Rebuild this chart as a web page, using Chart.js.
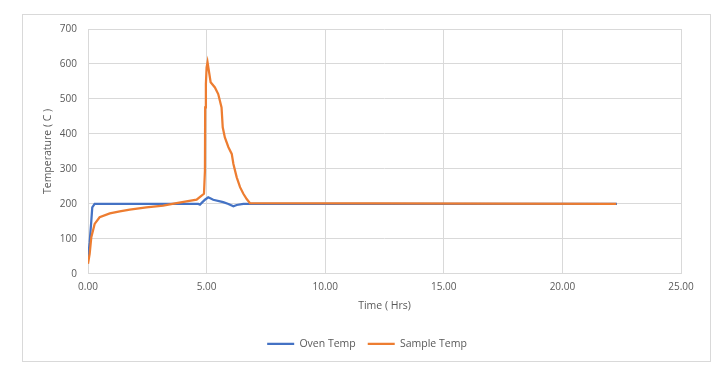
<!DOCTYPE html>
<html>
<head>
<meta charset="utf-8">
<script src="https://cdn.jsdelivr.net/npm/chart.js@4/dist/chart.umd.min.js"></script>
<style>
  html, body { margin: 0; padding: 0; background: #fff; }
  body { width: 716px; height: 377px; position: relative; overflow: hidden; }
  #frame { position: absolute; left: 22px; top: 14px; width: 689px; height: 348px; border: 1px solid #d9d9d9; box-sizing: border-box; }
  #wrap { position: absolute; left: 0; top: 0; width: 716px; height: 377px; }
</style>
</head>
<body>
<div id="frame"></div>
<div id="wrap"><canvas id="chart" width="716" height="377"></canvas></div>
<script>
// oven readings (hrs, C)
var ovenTime = [0, 0.07, 0.14, 0.18, 0.28, 4.65, 4.72, 4.93, 5.07, 5.28, 5.7, 5.92, 6.13, 6.27, 6.55, 6.83, 22.3];
var ovenTemp = [43, 90, 152, 190, 200, 200, 198, 212, 219, 212, 205, 200, 193, 197, 200, 200, 200];

// sample readings (hrs, C)
var sampleTime = [0, 0.07, 0.14, 0.28, 0.49, 0.92, 1.34, 1.76, 2.46, 3.17, 3.73, 4.15, 4.58, 4.79, 4.89, 4.93, 4.94, 4.97, 5.0, 5.04, 5.17, 5.35, 5.49, 5.63, 5.68, 5.77, 5.92, 6.06, 6.13, 6.27, 6.41, 6.55, 6.69, 6.83, 22.27];
var sampleTemp = [29, 57, 105, 143, 162, 173, 179, 184, 190, 195, 202, 207, 212, 224, 229, 295, 476, 543, 590, 605, 548, 533, 514, 476, 419, 390, 362, 343, 314, 276, 248, 229, 214, 202, 200];

var xTicks = [0, 5, 10, 15, 20, 25];

function pts(xs, ys) {
  var out = [];
  for (var i = 0; i < xs.length; i++) out.push({ x: xs[i], y: ys[i] });
  return out;
}

var fam = "'Open Sans', 'Liberation Sans', sans-serif";
var tickFont = { family: fam, size: 10 };
var labelFont = { family: fam, size: 10.5 };

new Chart(document.getElementById('chart'), {
  type: 'scatter',
  data: {
    datasets: [
      // sample line sits on top of the oven line
      { label: 'Oven Temp', order: 1, data: pts(ovenTime, ovenTemp), showLine: true, borderColor: '#4472C4', backgroundColor: '#4472C4', borderWidth: 2.25, pointRadius: 0, tension: 0 },
      { label: 'Sample Temp', order: 0, data: pts(sampleTime, sampleTemp), showLine: true, borderColor: '#ED7D31', backgroundColor: '#ED7D31', borderWidth: 2.25, pointRadius: 0, tension: 0 }
    ]
  },
  options: {
    responsive: false,
    animation: false,
    layout: { padding: { left: 53, right: 35, top: 29, bottom: 18 } },
    plugins: {
      tooltip: { enabled: false },
      legend: {
        position: 'bottom',
        labels: {
          usePointStyle: true, pointStyle: 'line', pointStyleWidth: 27,
          color: '#595959', font: labelFont, boxHeight: 2, padding: 12,
          sort: function (a, b) { return a.datasetIndex - b.datasetIndex; }
        }
      }
    },
    scales: {
      x: {
        type: 'linear', min: 0, max: 25,
        afterBuildTicks: function (axis) { axis.ticks = xTicks.map(function (v) { return { value: v }; }); },
        ticks: { color: '#595959', font: tickFont, padding: 7, callback: function (v) { return v.toFixed(2); } },
        grid: { color: '#d9d9d9', drawTicks: false },
        border: { color: '#d9d9d9' },
        title: { display: true, text: 'Time ( Hrs)', color: '#595959', font: labelFont, padding: { top: 0, bottom: 14 } }
      },
      y: {
        min: 0, max: 700,
        afterFit: function (axis) { axis.width = 35; },
        ticks: { stepSize: 100, color: '#595959', font: tickFont, padding: 11 },
        grid: { color: '#d9d9d9', drawTicks: false },
        border: { display: false },
        title: { display: true, text: 'Temperature ( C )', color: '#595959', font: labelFont, padding: { top: -11, bottom: 0 } }
      }
    }
  }
});
</script>
</body>
</html>
